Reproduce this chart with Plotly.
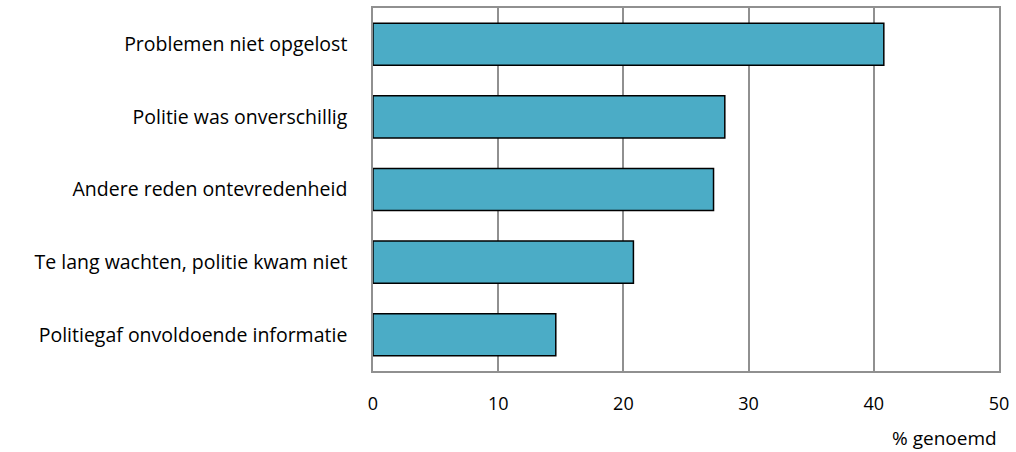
import plotly.graph_objects as go

categories = [
    "Politiegaf onvoldoende informatie",
    "Te lang wachten, politie kwam niet",
    "Andere reden ontevredenheid",
    "Politie was onverschillig",
    "Problemen niet opgelost",
]
values = [14.6, 20.8, 27.2, 28.1, 40.8]
x_ticks = [0, 10, 20, 30, 40, 50]

FONT = "Open Sans, sans-serif"
GRID = "#909090"

fig = go.Figure()
fig.add_trace(go.Bar(
    x=values,
    y=categories,
    orientation="h",
    marker=dict(color="#4bacc6", line=dict(color="#000000", width=1.5)),
    hoverinfo="x+y",
))

fig.update_layout(
    width=1016,
    height=452,
    margin=dict(l=373, r=17, t=6, b=81),
    paper_bgcolor="white",
    plot_bgcolor="white",
    bargap=0.42,
    showlegend=False,
    font=dict(family=FONT, size=18, color="#000000"),
)
fig.update_xaxes(
    range=[0, 50],
    tickvals=x_ticks,
    showgrid=True,
    gridcolor=GRID,
    gridwidth=1.5,
    showline=True,
    linecolor=GRID,
    linewidth=1.5,
    mirror=True,
    zeroline=False,
    ticks="",
    ticklabelstandoff=16,
    tickfont=dict(size=18),
)
fig.update_yaxes(
    showgrid=False,
    showline=True,
    linecolor=GRID,
    linewidth=1.5,
    mirror=True,
    ticks="",
    ticklabelstandoff=20,
    tickfont=dict(size=19.5),
)
fig.add_annotation(
    text="% genoemd",
    xref="paper", yref="paper",
    x=1.0, y=-0.184,
    xanchor="right", yanchor="middle",
    showarrow=False,
    font=dict(size=19),
)

fig.write_html(
    "out.html",
    config={"displayModeBar": False},
    post_script="document.body.style.margin='0';",
)
